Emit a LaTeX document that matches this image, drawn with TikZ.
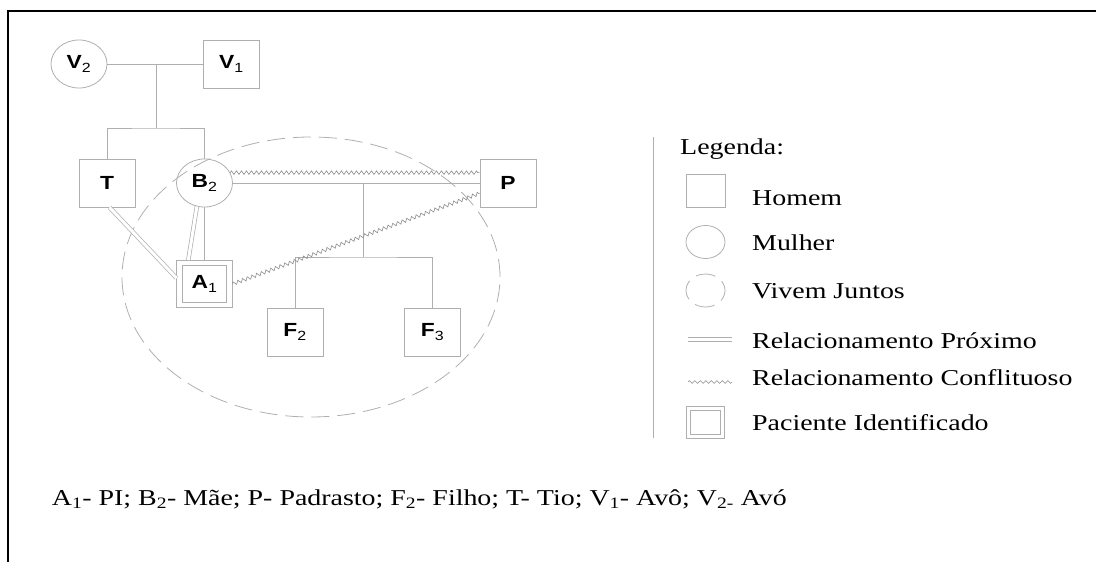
\documentclass[tikz,border=0pt]{standalone}
\usepackage{fontspec}
\setmainfont{Liberation Serif}[FakeStretch=1.23]
\newfontfamily\gsans{Liberation Sans}[FakeStretch=1.2]
\usepackage{tikz}
\usetikzlibrary{shapes.geometric,decorations.pathmorphing}
\definecolor{linegray}{RGB}{175,175,175}
\definecolor{wavegray}{RGB}{140,140,140}
\newcommand{\gname}[2]{\textbf{#1}\textsubscript{#2}}

\begin{document}
\begin{tikzpicture}[x=1pt,y=-1pt,
	man/.style={draw=linegray, line width=.8pt, rectangle, inner sep=0pt, minimum width=56pt, minimum height=48pt, font=\gsans\fontsize{19}{19}\selectfont},
	woman/.style={man, ellipse},
	patient/.style={man, double=white, double distance=4.5pt, minimum width=50pt, minimum height=42pt, outer sep=3pt},
	kin/.style={draw=linegray, line width=.8pt},
	close/.style={draw=linegray, line width=.7pt, double=white, double distance=3pt},
	conflict/.style={draw=wavegray, line width=.6pt, decorate, decoration={zigzag, segment length=5pt, amplitude=1.8pt}},
	household/.style={draw=linegray, line width=.8pt, ellipse, dash pattern=on 18pt off 8pt, inner sep=0pt},
	legtext/.style={anchor=base west, inner sep=0pt, font=\fontsize{22.7}{26}\selectfont}]
	\useasboundingbox (0,0) rectangle (1096,562);
	
	% Draw frame
	\draw[line width=2pt] (8.3,562) -- (8.3,11.3) -- (1096,11.3);
	
	% Draw household
	\node[household, minimum width=378pt, minimum height=280pt] (home) at (311,277) {};
	
	% Draw grandparents and their children
	\node[woman] (V2) at (79,64) {\gname{V}{2}};
	\node[man] (V1) at (231.5,64) {\gname{V}{1}};
	\node[man] (T) at (107,183) {\textbf{T}};
	\node[woman] (B2) at (204.5,183) {\gname{B}{2}};
	\node[man] (P) at (508,183) {\textbf{P}};
	\node[patient] (A1) at (204.5,284) {\gname{A}{1}};
	\node[man] (F2) at (295,332) {\gname{F}{2}};
	\node[man] (F3) at (432.5,332) {\gname{F}{3}};
	
	% Draw family lines
	\coordinate (vmid) at (156,64);
	\coordinate (sibs) at (156,128);
	\draw[kin] (V2) -- (V1);
	\draw[kin] (vmid) -- (sibs);
	\draw[kin] (T.north) |- (sibs) -| (B2.north);
	\coordinate (pmid) at (363,183);
	\coordinate (kids) at (363,257);
	\draw[kin] (B2) -- (P);
	\draw[kin] (pmid) -- (kids);
	\draw[kin] (F2.north) |- (kids) -| (F3.north);
	\draw[kin] (B2) -- (A1);
	
	% Draw relationships
	\draw[close] (B2.252) -- (A1.124);
	\draw[close] (T.-84) -- (A1.168);
	\draw[conflict] (B2.22) -- (P.160);
	\draw[conflict] (A1.east) -- (P.200);
	
	% Draw legend
	\draw[kin] (653,137) -- (653,438);
	\node[legtext] (lgtitle) at (680,154) {Legenda:};
	\node[man, minimum width=39pt, minimum height=33pt] (lgman) at (705.5,190.5) {};
	\node[legtext] (lgmantext) at (752,205) {Homem};
	\node[woman, minimum width=39pt, minimum height=33pt] (lgwoman) at (705.5,242) {};
	\node[legtext] (lgwomantext) at (752,250) {Mulher};
	\node[woman, minimum width=39pt, minimum height=33pt, dash pattern=on 20pt off 8pt, dash phase=10pt] (lghome) at (705.5,290.5) {};
	\node[legtext] (lghometext) at (752,298) {Vivem Juntos};
	\coordinate (lgclosea) at (688,339.5);
	\coordinate (lgcloseb) at (732,339.5);
	\draw[close] (lgclosea) -- (lgcloseb);
	\node[legtext] (lgclosetext) at (752,348) {Relacionamento Próximo};
	\coordinate (lgconfa) at (688,382);
	\coordinate (lgconfb) at (732,382);
	\draw[conflict, decoration={amplitude=1.4pt, segment length=5.5pt}] (lgconfa) -- (lgconfb);
	\node[legtext] (lgconftext) at (752,385) {Relacionamento Conflituoso};
	\node[patient, double distance=3.5pt, minimum width=34pt, minimum height=28pt] (lgpatient) at (705.5,422.5) {};
	\node[legtext] (lgpatienttext) at (752,430) {Paciente Identificado};
	
	% Draw caption
	\node[legtext] (caption) at (51.7,505) {A\textsubscript{1}- PI; B\textsubscript{2}- Mãe; P- Padrasto; F\textsubscript{2}- Filho; T- Tio; V\textsubscript{1}- Avô; V\textsubscript{2-} Avó};
\end{tikzpicture}
\end{document}
